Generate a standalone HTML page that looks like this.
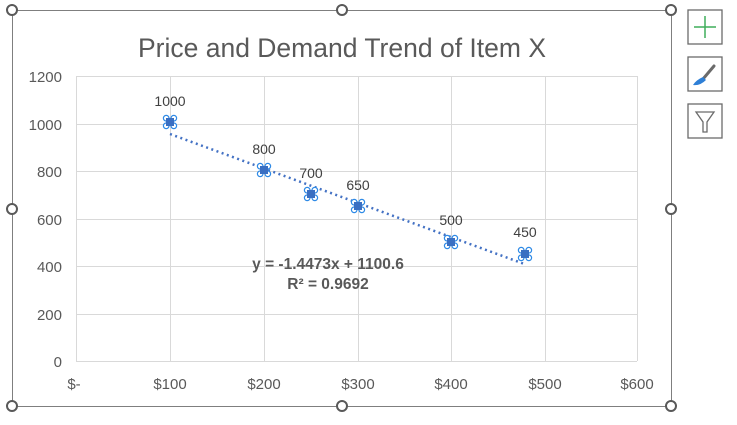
<!DOCTYPE html>
<html><head><meta charset="utf-8"><style>
html,body{margin:0;padding:0;background:#fff;}
svg{display:block;font-family:"Liberation Sans",sans-serif;}
</style></head><body>
<svg width="737" height="425" viewBox="0 0 737 425" xmlns="http://www.w3.org/2000/svg">
<rect x="0" y="0" width="737" height="425" fill="#fff"/>
<rect x="12.5" y="10.5" width="659" height="396" fill="#fff" stroke="#7f7f7f" stroke-width="1"/>
<text x="342" y="57" font-size="26.5" fill="#595959" text-anchor="middle">Price and Demand Trend of Item X</text>
<g stroke="#d9d9d9" stroke-width="1">
<line x1="76" y1="76.5" x2="637" y2="76.5"/>
<line x1="76" y1="124.5" x2="637" y2="124.5"/>
<line x1="76" y1="171.5" x2="637" y2="171.5"/>
<line x1="76" y1="219.5" x2="637" y2="219.5"/>
<line x1="76" y1="266.5" x2="637" y2="266.5"/>
<line x1="76" y1="314.5" x2="637" y2="314.5"/>
<line x1="76" y1="361.5" x2="637" y2="361.5"/>
<line x1="76.5" y1="76" x2="76.5" y2="361"/>
<line x1="170.5" y1="76" x2="170.5" y2="361"/>
<line x1="264.5" y1="76" x2="264.5" y2="361"/>
<line x1="358.5" y1="76" x2="358.5" y2="361"/>
<line x1="451.5" y1="76" x2="451.5" y2="361"/>
<line x1="545.5" y1="76" x2="545.5" y2="361"/>
<line x1="637.5" y1="76" x2="637.5" y2="361"/>
</g>
<g font-size="15" fill="#595959" text-anchor="end">
<text x="62" y="82">1200</text><text x="62" y="130">1000</text><text x="62" y="177">800</text>
<text x="62" y="225">600</text><text x="62" y="272">400</text><text x="62" y="320">200</text><text x="62" y="367">0</text>
</g>
<g font-size="15" fill="#595959" text-anchor="middle">
<text x="74" y="389">$-</text><text x="170" y="389">$100</text><text x="264" y="389">$200</text>
<text x="358" y="389">$300</text><text x="451" y="389">$400</text><text x="545" y="389">$500</text><text x="637" y="389">$600</text>
</g>
<line x1="170" y1="134" x2="526" y2="264.6" stroke="#4472c4" stroke-width="2.5" stroke-dasharray="2,3.5"/>
<defs><g id="m"><circle cx="-3.8" cy="-3.8" r="2.8" fill="#fff" stroke="#2e8ae6" stroke-width="1.2"/><circle cx="3.8" cy="-3.8" r="2.8" fill="#fff" stroke="#2e8ae6" stroke-width="1.2"/><circle cx="-3.8" cy="3.8" r="2.8" fill="#fff" stroke="#2e8ae6" stroke-width="1.2"/><circle cx="3.8" cy="3.8" r="2.8" fill="#fff" stroke="#2e8ae6" stroke-width="1.2"/><rect x="-4" y="-4" width="8" height="8" fill="#3a6fc2"/></g></defs>
<use href="#m" x="170" y="122"/><use href="#m" x="264" y="170"/><use href="#m" x="311" y="194"/>
<use href="#m" x="358" y="206"/><use href="#m" x="451" y="242"/><use href="#m" x="525" y="254"/>
<g font-size="14" fill="#404040" text-anchor="middle">
<text x="170" y="106">1000</text><text x="264" y="154">800</text><text x="311" y="178">700</text>
<text x="358" y="190">650</text><text x="451" y="225">500</text><text x="525" y="237">450</text>
</g>
<g font-size="15.5" fill="#595959" font-weight="bold" text-anchor="middle">
<text x="328" y="269">y = -1.4473x + 1100.6</text><text x="328" y="289">R² = 0.9692</text>
</g>
<g fill="#fff" stroke="#595959" stroke-width="2">
<circle cx="12" cy="10" r="5"/><circle cx="342" cy="10" r="5"/><circle cx="671" cy="10" r="5"/>
<circle cx="12" cy="209" r="5"/><circle cx="671" cy="209" r="5"/>
<circle cx="12" cy="406" r="5"/><circle cx="342" cy="406" r="5"/><circle cx="671" cy="406" r="5"/>
</g>
<g fill="#fff" stroke="#6b6b6b" stroke-width="1.3">
<rect x="688" y="10" width="34" height="34"/><rect x="688" y="57" width="34" height="34"/><rect x="688" y="104" width="34" height="34"/>
</g>
<g stroke="#3fae5a" stroke-width="1.5"><line x1="705" y1="16" x2="705" y2="38"/><line x1="694" y1="27" x2="716" y2="27"/></g>
<path d="M714 66 L703 79" stroke="#6b6b6b" stroke-width="3" stroke-linecap="round"/>
<path d="M703 77 Q696 80 693 85 Q700 86 706 80 Z" fill="#2e7fd6"/>
<path d="M696 112 L714 112 L707 122 L707 132 L703 132 L703 122 Z" fill="#fff" stroke="#6b6b6b" stroke-width="1.3"/>
</svg>
</body></html>
